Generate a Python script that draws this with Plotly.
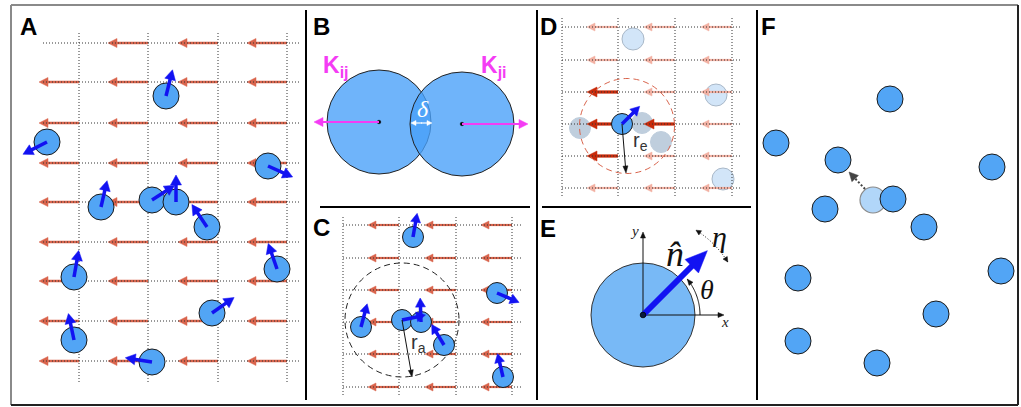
import math
import plotly.graph_objects as go

W, H = 1021, 407

# ---------------- data ----------------
# Panel A: flow lattice (column x, row y) and active discs (x, y, heading in deg)
A_GRID_X = [79, 148, 218, 287]
A_GRID_Y = [43, 82, 123, 163, 202, 242, 281, 321, 361]
A_X = [166, 47, 268, 101, 152, 176, 207, 277, 74, 212, 74, 152]
A_Y = [96, 142, 166, 207, 200, 202, 227, 269, 277, 313, 340, 362]
A_HEAD = [76, 207, -24, 77, 33, 90, 124, 109, 80, 35, 102, 171]

# Panel B: two overlapping discs
B_X = [379, 462]
B_Y = [122, 124]
B_LABELS = ["K<sub>ij</sub>", "K<sub>ji</sub>"]

# Panel C: alignment neighbourhood
C_GRID_X = [343, 399, 456, 512]
C_GRID_Y = [225, 258, 290, 322, 354, 387]
C_X = [413, 497, 361, 402, 421, 444, 503]
C_Y = [237, 293, 327, 320, 322, 345, 377]
C_HEAD = [80, -23, 75, 12, 92, 121, 103]

# Panel D: flow-sensing neighbourhood
D_GRID_X = [562, 618, 675, 732]
D_GRID_Y = [27, 60, 92, 124, 156, 188]
D_SENSED = [(618, 92), (618, 124), (675, 124), (618, 156)]
D_NEIGH_X = [580, 642, 661]
D_NEIGH_Y = [128, 123, 142]
D_FAR_X = [633, 716, 723]
D_FAR_Y = [39, 95, 179]
D_FOCAL = (622, 124, 45)

# Panel E: orientation of a single disc
E_CENTER = (643, 315)
E_THETA = 45

# Panel F: random placement with one displaced disc
F_X = [890, 776, 838, 992, 825, 893, 924, 798, 1001, 936, 798, 877]
F_Y = [99, 143, 160, 167, 209, 199, 227, 278, 271, 314, 341, 363]
F_GHOST = (873, 200)
F_MOVE_TO = (849, 172)

# ---------------- styles ----------------
DISC = "#52a5f5"
BLUE = "#1212f2"
FLOW = "#d9644c"
FLOW_FADED = "#f2b0a2"
FLOW_STRONG = "#c82a0a"
MAGENTA = "#f43cf4"
DOT = "1px,2px"

shapes = []
annotations = []


def line(x0, y0, x1, y1, color, width, dash="solid"):
    shapes.append(dict(type="line", x0=x0, y0=y0, x1=x1, y1=y1,
                       line=dict(color=color, width=width, dash=dash)))


def head(xt, yt, ux, uy, color, hl, hw):
    bx, by = xt - ux * hl, yt - uy * hl
    px, py = -uy, ux
    path = (f"M {xt},{yt} L {bx + px * hw / 2},{by + py * hw / 2} "
            f"L {bx - px * hw / 2},{by - py * hw / 2} Z")
    shapes.append(dict(type="path", path=path, fillcolor=color,
                       line=dict(color=color, width=0.5)))


def arrow(x0, y0, x1, y1, color, width, hl, hw, dash="solid"):
    dx, dy = x1 - x0, y1 - y0
    L = math.hypot(dx, dy)
    ux, uy = dx / L, dy / L
    line(x0, y0, x1 - ux * (hl - 1), y1 - uy * (hl - 1), color, width, dash)
    head(x1, y1, ux, uy, color, hl, hw)


def heading(x, y, deg, length, color, width, hl, hw):
    a = math.radians(deg)
    arrow(x, y, x + length * math.cos(a), y - length * math.sin(a),
          color, width, hl, hw)


def circle(cx, cy, r, fill, outline="#1a1a1a", width=1, dash="solid"):
    shapes.append(dict(type="circle", x0=cx - r, y0=cy - r, x1=cx + r, y1=cy + r,
                       fillcolor=fill, line=dict(color=outline, width=width, dash=dash)))


def arc(cx, cy, r, a0, a1, color, width, dash="solid", n=40):
    pts = []
    for i in range(n + 1):
        a = math.radians(a0 + (a1 - a0) * i / n)
        pts.append((cx + r * math.cos(a), cy - r * math.sin(a)))
    path = "M " + " L ".join(f"{x:.2f},{y:.2f}" for x, y in pts)
    shapes.append(dict(type="path", path=path, line=dict(color=color, width=width, dash=dash)))
    return pts


def text(x, y, s, size, color="#000000", family="Liberation Sans", xa="center", ya="middle"):
    annotations.append(dict(x=x, y=y, text=s, showarrow=False, xanchor=xa, yanchor=ya,
                            font=dict(size=size, color=color, family=family)))


# ---------------- frame and dividers ----------------
line(11, 5, 1018, 5, "#8a8a8a", 2)
line(11, 5, 11, 405, "#8a8a8a", 2)
line(1018, 5, 1018, 405, "#222222", 2)
line(11, 405, 1018, 405, "#222222", 2)
line(306, 10, 306, 400, "#000000", 2)
line(537, 10, 537, 400, "#000000", 2)
line(757, 10, 757, 400, "#000000", 2)
line(320, 207, 530, 207, "#000000", 2)
line(542, 207, 751, 207, "#000000", 2)

# ---------------- Panel A ----------------
for j, gy in enumerate(A_GRID_Y):
    for i, gx in enumerate(A_GRID_X):
        if j == 0 and i == 0:
            continue
        arrow(gx, gy, gx - 40, gy, FLOW, 2.5, 9, 9)
for gy in A_GRID_Y:
    line(43, gy, 299, gy, "#333333", 1, DOT)
for gx in A_GRID_X:
    line(gx, 33, gx, 383, "#333333", 1, DOT)
for x, y in zip(A_X, A_Y):
    circle(x, y, 13, DISC)
for x, y, h in zip(A_X, A_Y, A_HEAD):
    heading(x, y, h, 27, BLUE, 3.5, 10, 11)

# ---------------- Panel B ----------------
for x, y in zip(B_X, B_Y):
    circle(x, y, 52, "rgba(72,160,249,0.79)", "#222222", 1)
for x, y in zip(B_X, B_Y):
    circle(x, y, 1.8, "#000000", "#000000", 0.5)
arrow(B_X[0], B_Y[0], 314, B_Y[0], MAGENTA, 2, 9, 9)
arrow(B_X[1], B_Y[1], 528, B_Y[1], MAGENTA, 2, 9, 9)
arrow(422, 123, 411, 123, "#ffffff", 1.2, 5, 5)
arrow(421, 123, 432, 123, "#ffffff", 1.2, 5, 5)
text(423, 109, "<i>δ</i>", 24, "#ffffff", "Liberation Serif")
text(336, 66, "<b>" + B_LABELS[0] + "</b>", 23, MAGENTA)
text(494, 66, "<b>" + B_LABELS[1] + "</b>", 23, MAGENTA)

# ---------------- Panel C ----------------
for gy in C_GRID_Y:
    for gx in C_GRID_X[1:]:
        arrow(gx, gy, gx - 31, gy, FLOW, 2.2, 8, 8)
for gy in C_GRID_Y:
    line(343, gy, 522, gy, "#333333", 1, DOT)
for gx in C_GRID_X:
    line(gx, 217, gx, 397, "#333333", 1, DOT)
circle(402, 320, 57, "rgba(0,0,0,0)", "#222222", 1, "6px,4px")
for x, y in zip(C_X, C_Y):
    circle(x, y, 10.5, DISC)
for x, y, h in zip(C_X, C_Y, C_HEAD):
    heading(x, y, h, 24, BLUE, 3.5, 9, 10)
arrow(C_X[3], C_Y[3], 412, 377, "#111111", 1, 7, 5)
text(418, 343, "r<sub>a</sub>", 20, "#333333")

# ---------------- Panel D ----------------
for x, y in zip(D_FAR_X, D_FAR_Y):
    circle(x, y, 11, "#d2e5f8", "#a9b8c8", 1)
for x, y in zip(D_NEIGH_X, D_NEIGH_Y):
    circle(x, y, 10.5, "#bfcedd", "#bfcedd", 1)
for gy in D_GRID_Y:
    for gx in D_GRID_X[1:]:
        if (gx, gy) in D_SENSED:
            continue
        arrow(gx, gy, gx - 31, gy, FLOW_FADED, 2.2, 8, 8)
for gx, gy in D_SENSED:
    arrow(gx, gy, gx - 31, gy, FLOW_STRONG, 3.2, 10, 10)
for gy in D_GRID_Y:
    line(562, gy, 742, gy, "#333333", 1, DOT)
for gx in D_GRID_X:
    line(gx, 18, gx, 197, "#333333", 1, DOT)
circle(627, 126, 47.5, "rgba(0,0,0,0)", "#d9644c", 1, "6px,4px")
circle(D_FOCAL[0], D_FOCAL[1], 10.5, DISC)
heading(D_FOCAL[0], D_FOCAL[1], D_FOCAL[2], 25, BLUE, 3.5, 9, 10)
arrow(D_FOCAL[0], D_FOCAL[1], 626, 173, "#111111", 1, 7, 5)
text(640, 141, "r<sub>e</sub>", 20, "#333333")

# ---------------- Panel E ----------------
ex, ey = E_CENTER
circle(ex, ey, 52, "#78b9f6", "#333333", 1)
arrow(ex, ey, ex, 232, "#111111", 1, 6, 5)
arrow(ex, ey, 724, ey, "#111111", 1, 6, 5)
text(634, 231, "<i>y</i>", 15, "#222222", "Liberation Serif")
text(725, 322, "<i>x</i>", 15, "#222222", "Liberation Serif")
t = math.radians(E_THETA)
arrow(ex, ey, ex + 91 * math.cos(t), ey - 91 * math.sin(t), BLUE, 6, 22, 19)
circle(ex, ey, 2.8, "#0a1a3a", "#000000", 0.8)
pts = arc(ex, ey, 57, 0, E_THETA - 6, "#111111", 1)
(xa, ya), (xb, yb) = pts[-2], pts[-1]
L = math.hypot(xb - xa, yb - ya)
head(xb, yb, (xb - xa) / L, (yb - ya) / L, "#111111", 6, 5)
pts = arc(ex, ey, 100, 32, 58, "#111111", 1, "1px,2px")
for (xa, ya), (xb, yb) in [(pts[1], pts[0]), (pts[-2], pts[-1])]:
    L = math.hypot(xb - xa, yb - ya)
    head(xb, yb, (xb - xa) / L, (yb - ya) / L, "#111111", 5, 5)
text(675, 254, "<i>n\u0302</i>", 36, "#111111", "Liberation Serif")
text(707, 289, "<i>θ</i>", 28, "#111111", "Liberation Serif")
text(719, 236, "<i>η</i>", 30, "#111111", "Liberation Serif")

# ---------------- Panel F ----------------
circle(F_GHOST[0], F_GHOST[1], 13, "#b1d6f9", "#8a8a8a", 1.2)
for x, y in zip(F_X, F_Y):
    circle(x, y, 13, DISC)
arrow(865, 189, F_MOVE_TO[0], F_MOVE_TO[1], "#444444", 2, 9, 9, "2px,2px")

# ---------------- panel letters ----------------
for (lx, ly, s) in [(28, 26, "A"), (321, 26, "B"), (321, 227, "C"),
                    (548, 26, "D"), (548, 228, "E"), (768, 26, "F")]:
    text(lx, ly, "<b>" + s + "</b>", 24, "#000000")

fig = go.Figure()
fig.update_layout(
    width=W, height=H,
    margin=dict(l=0, r=0, t=0, b=0),
    paper_bgcolor="white", plot_bgcolor="white",
    xaxis=dict(range=[0, W], visible=False, fixedrange=True),
    yaxis=dict(range=[H, 0], visible=False, fixedrange=True),
    shapes=shapes, annotations=annotations, showlegend=False,
)
fig.write_html("out.html", config=dict(displayModeBar=False))
